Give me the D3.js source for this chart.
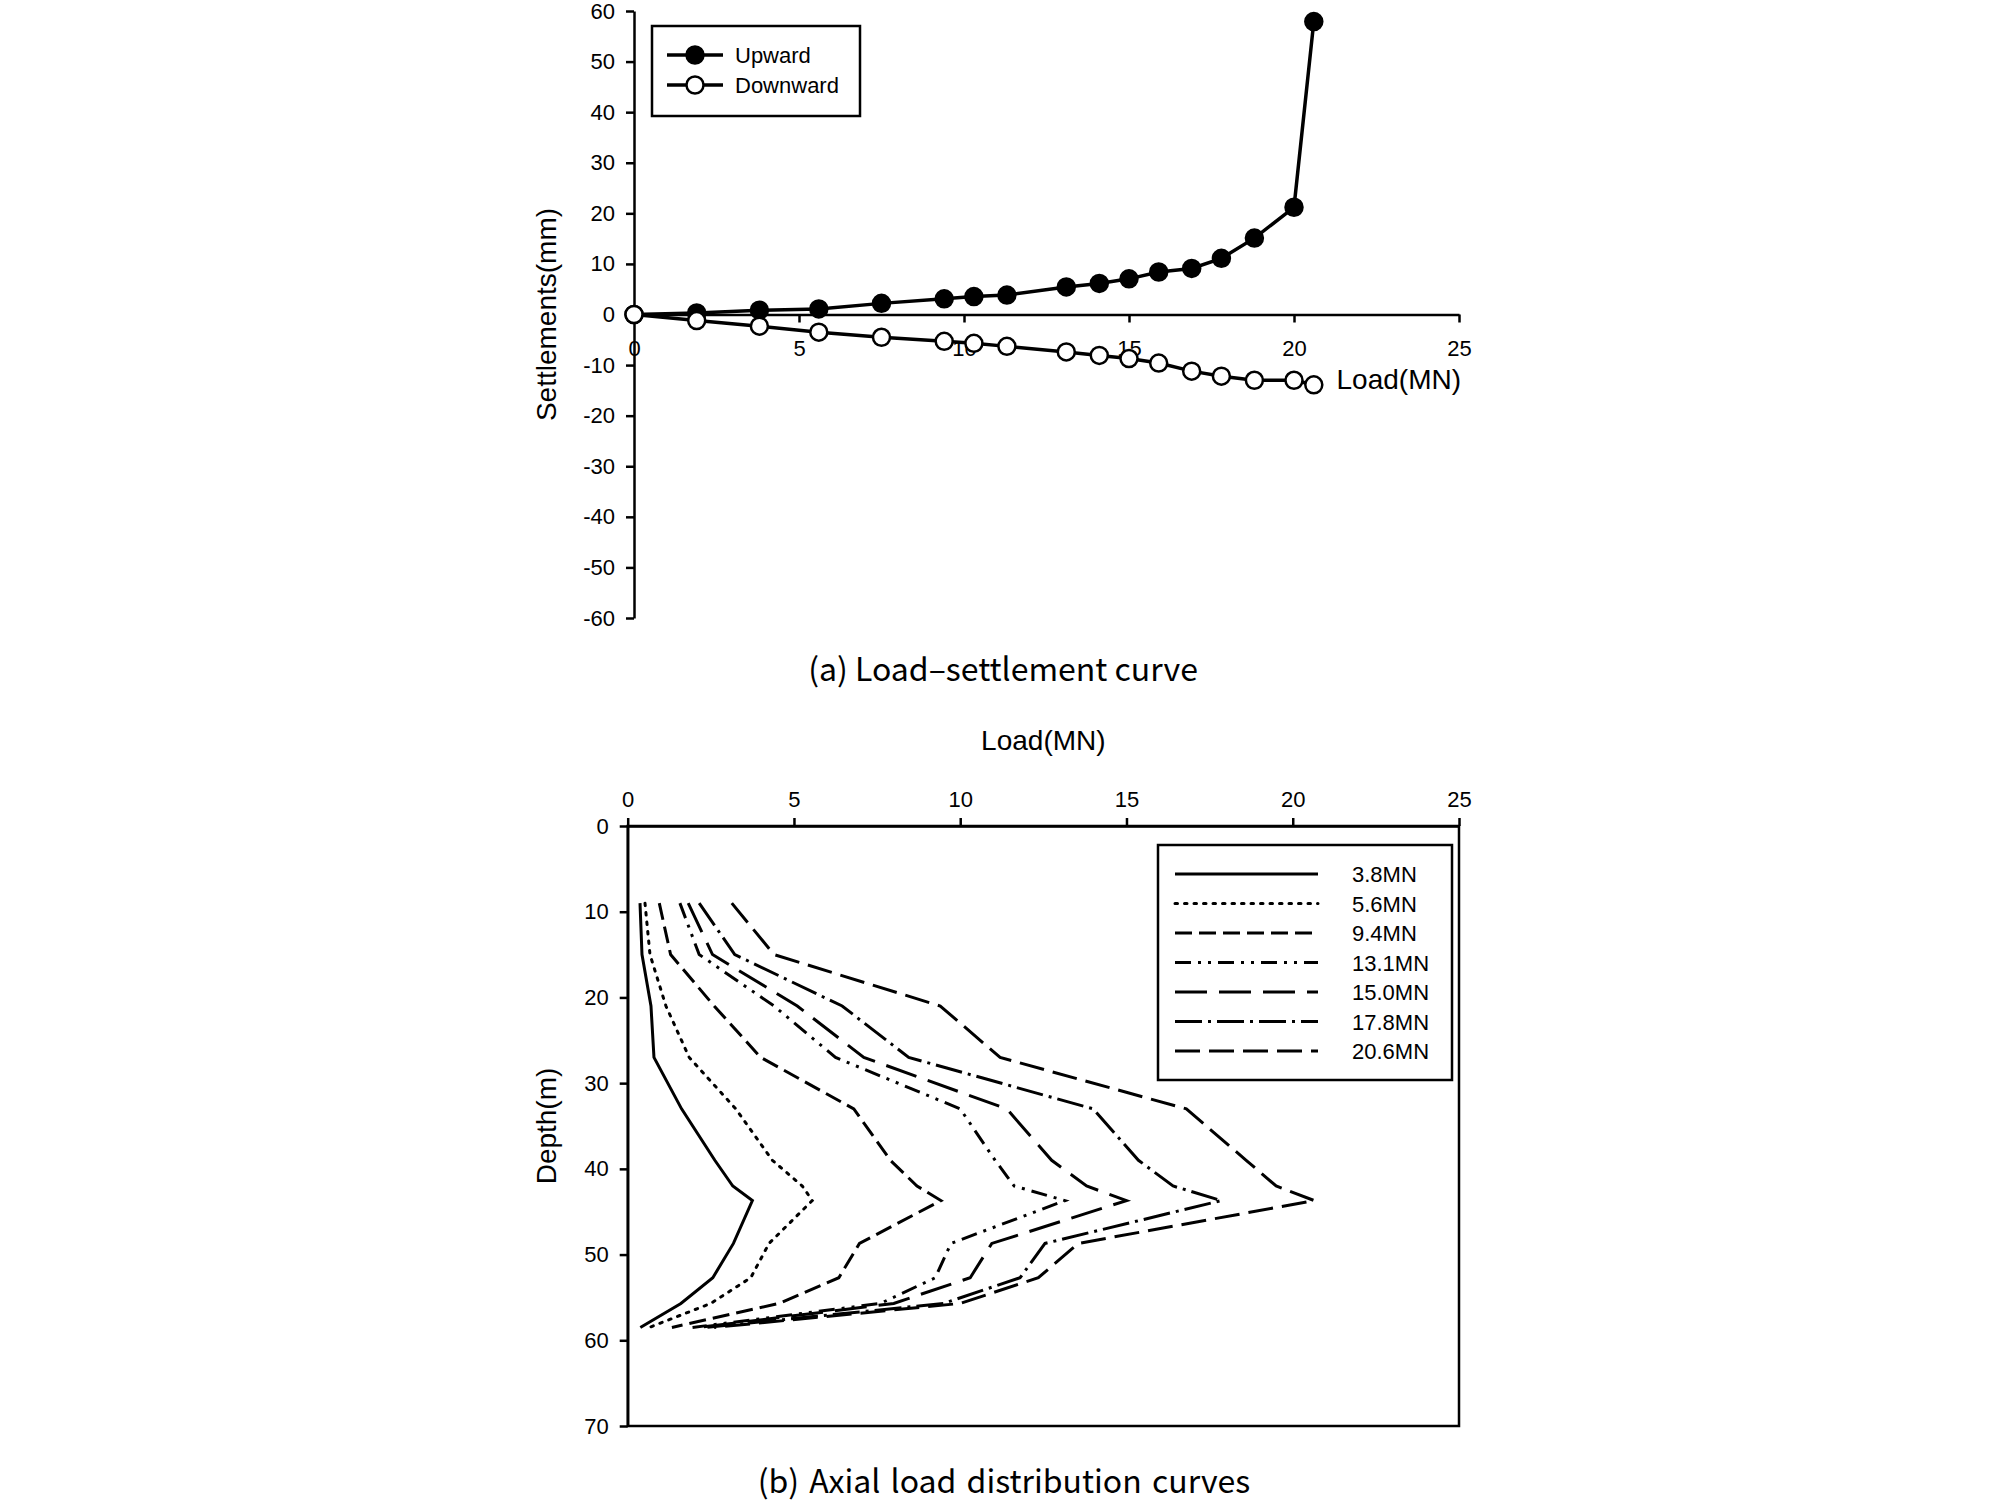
<!DOCTYPE html>
<html>
<head>
<meta charset="utf-8">
<script src="https://cdn.jsdelivr.net/npm/d3@7"></script>
<style>
  body { margin: 0; background: #fff; }
  text { font-family: "Liberation Sans", Arial, sans-serif; fill: #000; }
  .caption { font-family: "Noto Sans CJK KR", "Noto Sans", sans-serif; }
  .axis path, .axis line { stroke: #000; stroke-width: 2.5; }
</style>
</head>
<body>
<div id="chart"></div>
<script>
// (a) load-settlement data
const testLoads = [0, 1.9, 3.8, 5.6, 7.5, 9.4, 10.3, 11.3, 13.1, 14.1, 15.0, 15.9, 16.9, 17.8, 18.8, 20.0, 20.6];
const upwardSettle = [0, 0.3, 0.85, 1.1, 2.2, 3.1, 3.55, 3.85, 5.45, 6.15, 7.05, 8.4, 9.1, 11.1, 15.1, 21.2, 57.9];
const downwardSettle = [0, -1.2, -2.3, -3.5, -4.5, -5.3, -5.7, -6.3, -7.4, -8.1, -8.7, -9.6, -11.2, -12.2, -13.0, -13.0, -13.9];
const settleTicks = [-60, -50, -40, -30, -20, -10, 0, 10, 20, 30, 40, 50, 60];
const loadTicks = [0, 5, 10, 15, 20, 25];

// (b) axial load distribution data
const gaugeDepths = [9, 15, 21, 27, 33, 39, 42, 43.7, 48.7, 52.7, 55.7, 58.5];
const dist38 = [0.37, 0.43, 0.70, 0.79, 1.62, 2.62, 3.16, 3.75, 3.18, 2.56, 1.60, 0.38];
const dist56 = [0.52, 0.67, 1.15, 1.85, 3.25, 4.35, 5.25, 5.55, 4.25, 3.70, 2.50, 0.65];
const dist94 = [0.95, 1.29, 2.60, 4.00, 6.80, 7.90, 8.70, 9.42, 6.97, 6.35, 4.55, 1.33];
const dist131 = [1.57, 2.15, 4.40, 6.25, 10.0, 11.05, 11.62, 13.15, 9.72, 9.25, 7.60, 1.95];
const dist150 = [1.82, 2.55, 5.10, 7.10, 11.4, 12.75, 13.80, 15.0, 10.95, 10.30, 8.00, 2.15];
const dist178 = [2.15, 3.22, 6.45, 8.45, 14.0, 15.36, 16.40, 17.85, 12.55, 11.80, 9.50, 2.35];
const dist206 = [3.13, 4.40, 9.40, 11.2, 16.8, 18.60, 19.50, 20.65, 13.55, 12.35, 10.0, 2.60];
const distLabels = ["3.8MN", "5.6MN", "9.4MN", "13.1MN", "15.0MN", "17.8MN", "20.6MN"];
const depthTicks = [0, 10, 20, 30, 40, 50, 60, 70];

const svg = d3.select('#chart').append('svg')
    .attr('width', 2008)
    .attr('height', 1504);

// plain hyphen for negative ticks, like the original
const plain = d => String(d);
const tickFont = g => g.selectAll('text')
    .style('font-size', '22px')
    .style('font-family', '"Liberation Sans", Arial, sans-serif');

// ---------- (a) Load-settlement curve ----------
const xA = d3.scaleLinear().domain([0, 25]).range([634, 1459]);
const yA = d3.scaleLinear().domain([-60, 60]).range([618, 11]);

svg.append('g')
    .attr('class', 'axis')
    .attr('transform', `translate(${xA(0)},0)`)
    .call(d3.axisLeft(yA).tickValues(settleTicks).tickFormat(plain).tickSize(8).tickSizeOuter(0).tickPadding(11))
    .call(tickFont);

svg.append('g')
    .attr('class', 'axis')
    .attr('transform', `translate(0,${yA(0)})`)
    .call(d3.axisBottom(xA).tickValues(loadTicks).tickFormat(plain).tickSize(8).tickSizeOuter(0).tickPadding(18))
    .call(tickFont);

svg.append('text')
    .attr('transform', `translate(556,${yA(0)}) rotate(-90)`)
    .attr('text-anchor', 'middle')
    .style('font-size', '28px')
    .text('Settlements(mm)');

svg.append('text')
    .attr('x', 1461)
    .attr('y', 389)
    .attr('text-anchor', 'end')
    .style('font-size', '28px')
    .text('Load(MN)');

const seriesA = [
    { name: 'Upward', values: upwardSettle, fill: '#000' },
    { name: 'Downward', values: downwardSettle, fill: '#fff' }
];

const lineA = d3.line()
    .x((d, i) => xA(testLoads[i]))
    .y(d => yA(d));

seriesA.forEach(s => {
    svg.append('path')
        .datum(s.values)
        .attr('d', lineA)
        .attr('fill', 'none')
        .attr('stroke', '#000')
        .attr('stroke-width', 3.5);
    svg.append('g')
        .selectAll('circle')
        .data(s.values)
        .enter()
        .append('circle')
        .attr('cx', (d, i) => xA(testLoads[i]))
        .attr('cy', d => yA(d))
        .attr('r', 8.5)
        .attr('fill', s.fill)
        .attr('stroke', '#000')
        .attr('stroke-width', 2.5);
});

// legend (a)
const legA = svg.append('g');
legA.append('rect')
    .attr('x', 652).attr('y', 26)
    .attr('width', 208).attr('height', 90)
    .attr('fill', '#fff').attr('stroke', '#000').attr('stroke-width', 2.5);
seriesA.forEach((s, i) => {
    const yy = 55 + i * 30;
    legA.append('line')
        .attr('x1', 667).attr('x2', 723)
        .attr('y1', yy).attr('y2', yy)
        .attr('stroke', '#000').attr('stroke-width', 3.5);
    legA.append('circle')
        .attr('cx', 695).attr('cy', yy).attr('r', 8.5)
        .attr('fill', s.fill).attr('stroke', '#000').attr('stroke-width', 2.5);
    legA.append('text')
        .attr('x', 735).attr('y', yy + 8)
        .style('font-size', '22px')
        .text(s.name);
});

svg.append('text')
    .attr('class', 'caption')
    .attr('x', 1003)
    .attr('y', 681)
    .attr('text-anchor', 'middle')
    .style('font-size', '32px')
    .text('(a) Load\u2013settlement curve');

// ---------- (b) Axial load distribution curves ----------
const xB = d3.scaleLinear().domain([0, 25]).range([627.7, 1459]);
const yB = d3.scaleLinear().domain([0, 70]).range([826, 1426]);

svg.append('rect')
    .attr('x', xB(0)).attr('y', yB(0))
    .attr('width', xB(25) - xB(0)).attr('height', yB(70) - yB(0))
    .attr('fill', 'none').attr('stroke', '#000').attr('stroke-width', 2.5);

svg.append('g')
    .attr('class', 'axis')
    .attr('transform', `translate(0,${yB(0)})`)
    .call(d3.axisTop(xB).tickValues(loadTicks).tickFormat(plain).tickSize(8).tickSizeOuter(0).tickPadding(11))
    .call(tickFont);

svg.append('g')
    .attr('class', 'axis')
    .attr('transform', `translate(${xB(0)},0)`)
    .call(d3.axisLeft(yB).tickValues(depthTicks).tickFormat(plain).tickSize(8).tickSizeOuter(0).tickPadding(11))
    .call(tickFont);

svg.append('text')
    .attr('x', (xB(0) + xB(25)) / 2)
    .attr('y', 750)
    .attr('text-anchor', 'middle')
    .style('font-size', '28px')
    .text('Load(MN)');

svg.append('text')
    .attr('transform', `translate(556,${(yB(0) + yB(70)) / 2}) rotate(-90)`)
    .attr('text-anchor', 'middle')
    .style('font-size', '28px')
    .text('Depth(m)');

const distSeries = [dist38, dist56, dist94, dist131, dist150, dist178, dist206];
const dashes = ['none', '2.5,7', '17,7', '16,7,3,7,3,7', '32,12', '27,6,3,6', '25,9'];
const caps = ['butt', 'round', 'butt', 'butt', 'butt', 'butt', 'butt'];

const lineB = d3.line()
    .x(d => xB(d))
    .y((d, i) => yB(gaugeDepths[i]));

distSeries.forEach((vals, k) => {
    svg.append('path')
        .datum(vals)
        .attr('d', lineB)
        .attr('fill', 'none')
        .attr('stroke', '#000')
        .attr('stroke-width', 3)
        .attr('stroke-linecap', caps[k])
        .attr('stroke-dasharray', dashes[k]);
});

// legend (b)
const legB = svg.append('g');
legB.append('rect')
    .attr('x', 1158).attr('y', 845)
    .attr('width', 294).attr('height', 235)
    .attr('fill', '#fff').attr('stroke', '#000').attr('stroke-width', 2.5);
distLabels.forEach((lab, k) => {
    const yy = 874 + k * 29.5;
    legB.append('line')
        .attr('x1', 1175).attr('x2', 1318)
        .attr('y1', yy).attr('y2', yy)
        .attr('stroke', '#000').attr('stroke-width', 3)
        .attr('stroke-linecap', caps[k])
        .attr('stroke-dasharray', dashes[k]);
    legB.append('text')
        .attr('x', 1352).attr('y', yy + 8)
        .style('font-size', '22px')
        .text(lab);
});

svg.append('text')
    .attr('class', 'caption')
    .attr('x', 1004)
    .attr('y', 1493)
    .attr('text-anchor', 'middle')
    .style('font-size', '32px')
    .style('word-spacing', '3px')
    .text('(b) Axial load distribution curves');
</script>
</body>
</html>
